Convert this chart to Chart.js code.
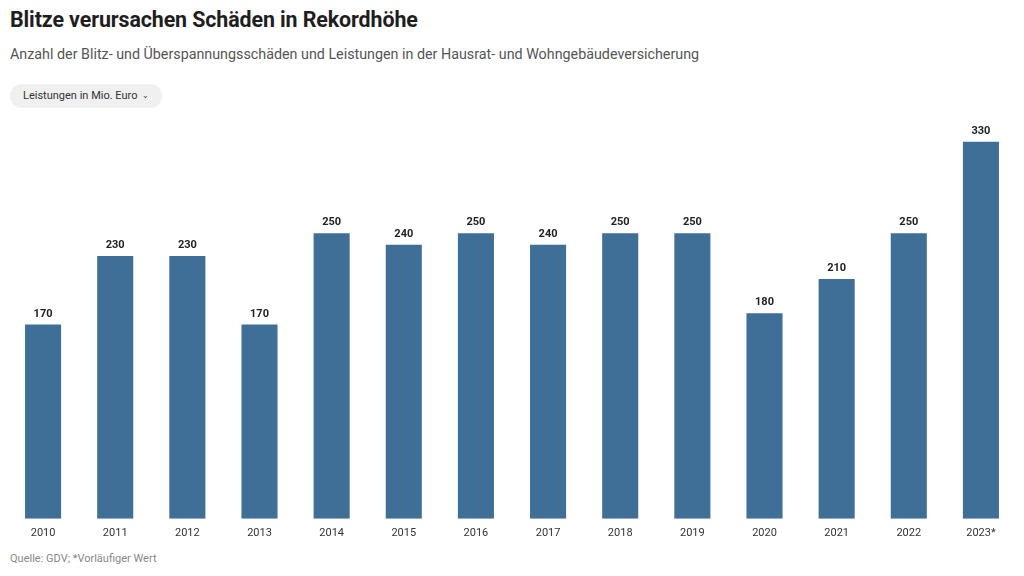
<!DOCTYPE html>
<html>
<head>
<meta charset="utf-8">
<script src="https://cdn.jsdelivr.net/npm/chart.js@4"></script>
<style>
  html, body { margin: 0; padding: 0; background: #fff; }
  body { width: 1024px; height: 576px; position: relative; overflow: hidden; font-family: Roboto, "Noto Sans", sans-serif; color: #222; }
  h1 { position: absolute; left: 10px; top: 7px; margin: 0; font-size: 21.4px; font-weight: 700; color: #1e1e1e; letter-spacing: -0.1px; }
  .sub { position: absolute; left: 10px; top: 46px; font-size: 14.3px; color: #555; }
  .pill { position: absolute; left: 10px; top: 84px; height: 24px; line-height: 24px; padding: 0 13px 0 13px; border-radius: 12px; background: #f0f0f0; font-size: 11px; color: #333; }
  .pill span { font-size: 8px; margin-left: 2px; position: relative; top: -1px; }
  .src { position: absolute; left: 10px; top: 552px; font-size: 11px; color: #888; }
  #wrap { position: absolute; left: 0; top: 110px; width: 1024px; height: 440px; }
</style>
</head>
<body>
<h1>Blitze verursachen Schäden in Rekordhöhe</h1>
<div class="sub">Anzahl der Blitz- und Überspannungsschäden und Leistungen in der Hausrat- und Wohngebäudeversicherung</div>
<div class="pill">Leistungen in Mio. Euro <span>&#8964;</span></div>
<div id="wrap"><canvas id="chart"></canvas></div>
<div class="src">Quelle: GDV; *Vorläufiger Wert</div>
<script>
const years = ['2010', '2011', '2012', '2013', '2014', '2015', '2016', '2017', '2018', '2019', '2020', '2021', '2022', '2023*'];
const leistungen = [170, 230, 230, 170, 250, 240, 250, 240, 250, 250, 180, 210, 250, 330];

// value labels above each bar
const barLabels = {
  id: 'barLabels',
  afterDatasetsDraw(chart) {
    const ctx = chart.ctx;
    const meta = chart.getDatasetMeta(0);
    ctx.save();
    ctx.font = 'bold 11px Roboto, sans-serif';
    ctx.fillStyle = '#222';
    ctx.textAlign = 'center';
    ctx.textBaseline = 'bottom';
    meta.data.forEach((bar, i) => {
      ctx.fillText(leistungen[i], bar.x, bar.y - 5);
    });
    ctx.restore();
  }
};

new Chart(document.getElementById('chart'), {
  type: 'bar',
  data: {
    labels: years,
    datasets: [{
      data: leistungen,
      backgroundColor: '#3f6f96',
      barPercentage: 0.5,
      categoryPercentage: 1,
    }],
  },
  options: {
    responsive: true,
    maintainAspectRatio: false,
    animation: false,
    layout: { padding: { left: 7, right: 7, top: 9, bottom: 2 } },
    plugins: { legend: { display: false }, tooltip: { enabled: false } },
    scales: {
      x: {
        grid: { display: false, drawTicks: false },
        border: { display: false },
        ticks: { color: '#333', font: { size: 11, family: 'Roboto' }, padding: 8, maxRotation: 0 },
      },
      y: {
        display: false,
        min: 0,
        max: 350,
      },
    },
  },
  plugins: [barLabels],
});
</script>
</body>
</html>
